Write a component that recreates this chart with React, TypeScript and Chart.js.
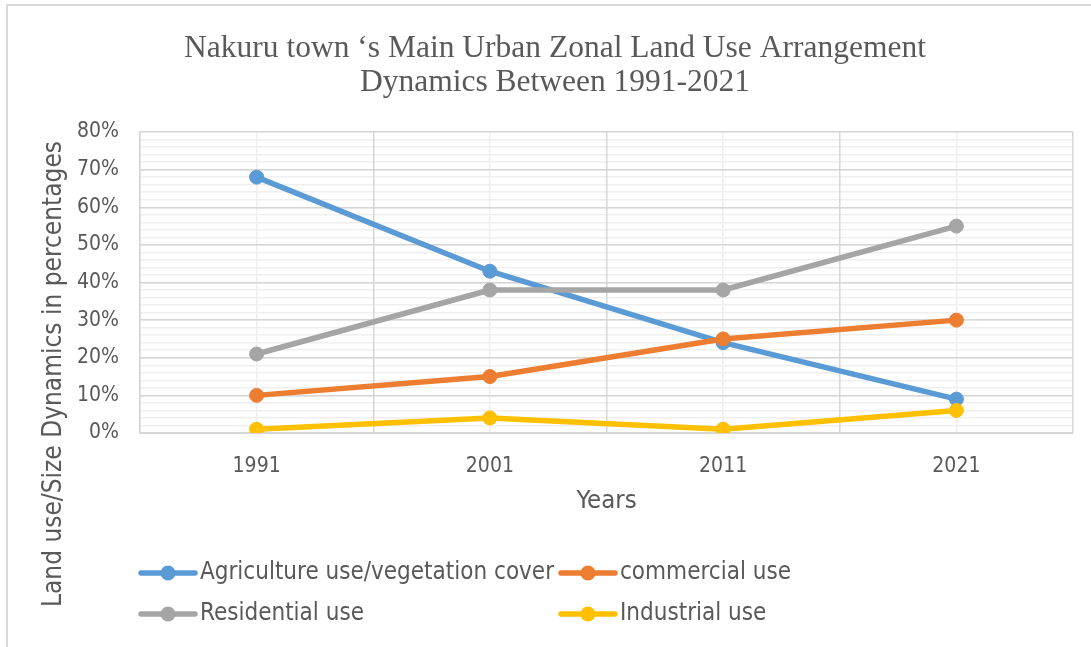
import React, { useEffect, useRef } from 'react';
import { Chart, registerables } from 'chart.js';

Chart.register(...registerables);

const years = ['1991', '2001', '2011', '2021'];
const agricultureUse = [68, 43, 24, 9];
const commercialUse = [10, 15, 25, 30];
const residentialUse = [21, 38, 38, 55];
const industrialUse = [1, 4, 1, 6];
const seriesNames = ['Agriculture use/vegetation cover', 'commercial use', 'Residential use', 'Industrial use'];
const seriesColors = ['#5B9BD5', '#ED7D31', '#A5A5A5', '#FFC000'];
const titleLines = ['Nakuru town \u2018s Main Urban Zonal Land Use Arrangement', 'Dynamics Between 1991-2021'];
const yAxisTitle = 'Land use/Size Dynamics in percentages';
const xAxisTitle = 'Years';
const yMin = 0;
const yMax = 80;
const yStep = 10;
const yMinorStep = 2;

const TEXT = '#595959';
const SANS = '"DejaVu Sans Condensed", "DejaVu Sans", sans-serif';

const decorPlugin = {
  id: 'decor',
  beforeDraw(chart: any) {
    const ctx = chart.ctx;
    ctx.save();
    ctx.fillStyle = '#ffffff';
    ctx.fillRect(0, 0, chart.width, chart.height);
    ctx.strokeStyle = '#d9d9d9';
    ctx.lineWidth = 2;
    ctx.beginPath();
    ctx.moveTo(7, chart.height);
    ctx.lineTo(7, 5);
    ctx.lineTo(chart.width, 5);
    ctx.stroke();
    ctx.restore();
  },
  afterDraw(chart: any) {
    const ctx = chart.ctx;
    ctx.save();
    // main title
    ctx.fillStyle = TEXT;
    ctx.font = '31.5px "Liberation Serif", serif';
    ctx.textAlign = 'center';
    ctx.textBaseline = 'alphabetic';
    ctx.fillText(titleLines[0], 555, 57);
    ctx.fillText(titleLines[1], 555, 91);

    // y axis title
    ctx.save();
    ctx.translate(61, 374);
    ctx.rotate(-Math.PI / 2);
    ctx.font = '26px ' + SANS;
    ctx.textAlign = 'center';
    ctx.textBaseline = 'alphabetic';
    ctx.fillText(yAxisTitle, 0, 0);
    ctx.restore();

    // legend
    const cols = [141, 561];
    const rows = [573, 614];
    chart.data.datasets.forEach((ds: any, i: number) => {
      const x = cols[i % 2];
      const y = rows[Math.floor(i / 2)];
      ctx.strokeStyle = ds.borderColor;
      ctx.lineWidth = 5.5;
      ctx.lineCap = 'round';
      ctx.beginPath();
      ctx.moveTo(x, y);
      ctx.lineTo(x + 54, y);
      ctx.stroke();
      ctx.fillStyle = ds.borderColor;
      ctx.beginPath();
      ctx.arc(x + 27, y, 7.5, 0, Math.PI * 2);
      ctx.fill();
      ctx.fillStyle = TEXT;
      ctx.font = '24px ' + SANS;
      ctx.textAlign = 'left';
      ctx.textBaseline = 'middle';
      ctx.fillText(ds.label, x + 59, y);
    });
    ctx.restore();
  },
};

export default function App() {
  const ref = useRef<HTMLCanvasElement | null>(null);

  useEffect(() => {
    document.body.style.margin = '0';
    const canvas = ref.current;
    if (!canvas) return;
    const seriesValues = [agricultureUse, commercialUse, residentialUse, industrialUse];
    const datasets = seriesValues.map((values, i) => ({
      label: seriesNames[i],
      data: values,
      borderColor: seriesColors[i],
      backgroundColor: seriesColors[i],
      pointBackgroundColor: seriesColors[i],
      pointBorderColor: seriesColors[i],
      borderWidth: 5.5,
      pointRadius: 7,
      pointBorderWidth: 1,
      borderCapStyle: 'round',
      borderJoinStyle: 'round',
      tension: 0,
      xAxisID: 'x',
      yAxisID: 'y',
      order: seriesValues.length - i,
    }));

    const chart = new Chart(canvas, {
      type: 'line',
      data: { labels: years, datasets: datasets as any },
      plugins: [decorPlugin],
      options: {
        responsive: false,
        animation: false,
        devicePixelRatio: 1,
        layout: { padding: { top: 132, right: 18, bottom: 114, left: 0 } },
        plugins: {
          legend: { display: false },
          title: { display: false },
          tooltip: { enabled: false },
        },
        scales: {
          xMinor: {
            axis: 'x',
            type: 'category',
            labels: years,
            position: 'bottom',
            offset: true,
            grid: { offset: false, color: '#eeeeee', lineWidth: 1.5, drawTicks: false, z: -2 },
            border: { display: false },
            ticks: { display: false },
            afterFit: (s: any) => { s.height = 0; },
          },
          yMinor: {
            axis: 'y',
            type: 'linear',
            position: 'left',
            min: yMin,
            max: yMax,
            ticks: { display: false, stepSize: yMinorStep, maxTicksLimit: 100 },
            grid: { color: '#efefef', lineWidth: 1.5, drawTicks: false, z: -2 },
            border: { display: false },
            afterFit: (s: any) => { s.width = 0; },
          },
          x: {
            type: 'category',
            position: 'bottom',
            offset: true,
            grid: { offset: true, color: '#d6d6d6', lineWidth: 1.5, drawTicks: false, z: -1 },
            border: { display: true, color: '#d6d6d6', width: 2 },
            ticks: { color: TEXT, font: { family: SANS, size: 21 }, padding: 21 },
            title: {
              display: true,
              text: xAxisTitle,
              color: TEXT,
              font: { family: SANS, size: 25.5 },
              padding: { top: 0, bottom: 16 },
            },
            afterFit: (s: any) => { s.height = 100; },
          },
          y: {
            type: 'linear',
            position: 'left',
            min: yMin,
            max: yMax,
            ticks: {
              stepSize: yStep,
              color: TEXT,
              font: { family: SANS, size: 21 },
              padding: 21,
              callback: (v: any) => v + '%',
            },
            grid: { color: '#d6d6d6', lineWidth: 1.5, drawTicks: false, z: -1 },
            border: { display: true, color: '#d6d6d6', width: 1.5 },
            afterFit: (s: any) => { s.width = 140; },
          },
        },
      } as any,
    });
    return () => chart.destroy();
  }, []);

  return (
    <div style={{ width: 1091, height: 647, position: 'relative', overflow: 'hidden' }}>
      <canvas ref={ref} width={1091} height={647} style={{ display: 'block' }} />
    </div>
  );
}
